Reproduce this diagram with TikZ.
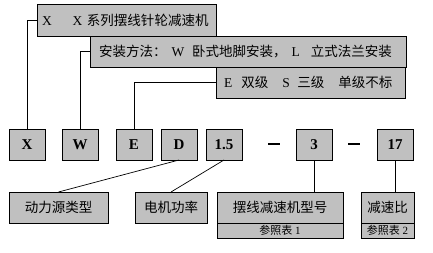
\documentclass[tikz,border=0pt]{standalone}
\usepackage{fontspec}
\setmainfont{Liberation Serif}
\newfontfamily\cjk{Noto Sans CJK SC}
\usetikzlibrary{positioning}
\definecolor{boxgray}{RGB}{192,192,192}

\begin{document}
\begin{tikzpicture}[x=1pt,y=-1pt,
cell/.style={draw,fill=boxgray,line width=1pt,inner sep=0pt,outer sep=0pt},
note/.style={cell,anchor=north west,minimum height=31pt,align=left,font=\fontsize{13.5}{14}\selectfont},
code/.style={cell,minimum width=36pt,minimum height=31pt,font=\fontsize{15}{15}\selectfont\bfseries},
part/.style={cell,anchor=north west,minimum height=31pt,font=\fontsize{13.5}{14}\selectfont\cjk},
ref/.style={cell,minimum height=15pt,font=\fontsize{11}{11}\selectfont},
link/.style={line width=0.9pt},
thin/.style={line width=0.7pt}]
\useasboundingbox (0,0) rectangle (433,252);
\node[note,minimum height=32pt,inner xsep=5pt,text width=169pt] (series) at (37,4)
  {X\hspace{21pt}X {\cjk 系列摆线针轮减速机}};
\node[note,inner xsep=9pt,text width=298pt] (mount) at (90,36)
  {{\cjk 安装方法：}\hspace{5pt}W\hspace{8pt}{\cjk 卧式地脚安装，}\hspace{5pt}L\hspace{11pt}{\cjk 立式法兰安装}};
\node[note,inner xsep=8pt,text width=173pt] (stage) at (216,67)
  {E\hspace{9pt}{\cjk 双级}\hspace{14pt}S\hspace{7.5pt}{\cjk 三级}\hspace{14pt}{\cjk 单级不标}};
\node[code,anchor=north west] (x) at (9,129) {X};
\node[code,right=17pt of x] (w) {W};
\node[code,right=18pt of w] (e) {E};
\node[code,right=9pt of e] (d) {D};
\node[code,right=9pt of d] (kw) {1.5};
\node[code,right=54pt of kw] (size) {3};
\node[code,right=45pt of size] (ratio) {17};
\node[inner sep=0pt] (dasha) at (274,144) {\rule{12pt}{2.6pt}};
\node[inner sep=0pt] (dashb) at (354,144) {\rule{12pt}{2.6pt}};
\node[part,minimum width=99pt] (drive) at (9,192) {动力源类型};
\node[part,minimum width=72pt] (power) at (135,192) {电机功率};
\node[part,minimum width=126pt] (model) at (217,192) {摆线减速机型号};
\node[ref,minimum width=126pt,below=0pt of model] (modelref) {{\cjk 参照表} 1};
\node[part,minimum width=53pt] (rate) at (361,192) {减速比};
\node[ref,minimum width=53pt,below=0pt of rate] (rateref) {{\cjk 参照表} 2};
\draw[link] (series.west) -| (x.north);
\draw[link] (mount.west) -| (w.north);
\draw[link] (stage.west) -| (e.north);
\draw[thin] (d.south) -- (drive.north);
\draw[thin] (kw.south) -- (power.north);
\draw[link] (size.south) -- (size.south |- model.north);
\draw[link] (ratio.south) -- (ratio.south |- rate.north);
\end{tikzpicture}
\end{document}
